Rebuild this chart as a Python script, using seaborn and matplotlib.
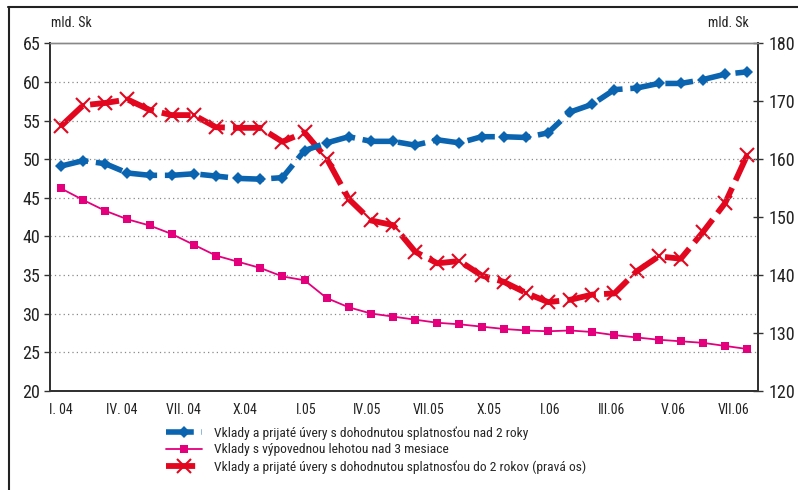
import numpy as np
import pandas as pd
import matplotlib
matplotlib.use("Agg")
import matplotlib.pyplot as plt
from matplotlib.lines import Line2D
from matplotlib import font_manager
import seaborn as sns

# Monthly data, I.2004 - VIII.2006 (mld. Sk)
months = ["I.04", "II.04", "III.04", "IV.04", "V.04", "VI.04", "VII.04", "VIII.04",
          "IX.04", "X.04", "XI.04", "XII.04", "I.05", "II.05", "III.05", "IV.05",
          "V.05", "VI.05", "VII.05", "VIII.05", "IX.05", "X.05", "XI.05", "XII.05",
          "I.06", "II.06", "III.06", "IV.06", "V.06", "VI.06", "VII.06", "VIII.06"]

# deposits and received loans, agreed maturity over 2 years (left axis)
over_2y = [49.1, 49.8, 49.4, 48.2, 47.9, 47.9, 48.1, 47.8, 47.5, 47.4, 47.6, 51.1,
           52.1, 52.9, 52.3, 52.3, 51.8, 52.5, 52.1, 52.9, 52.9, 52.8, 53.4, 56.1,
           57.1, 59.0, 59.2, 59.8, 59.8, 60.3, 61.0, 61.3]

# deposits with notice period over 3 months (left axis)
notice_3m = [46.2, 44.7, 43.3, 42.2, 41.4, 40.3, 38.9, 37.5, 36.7, 35.9, 34.8, 34.3,
             32.0, 30.8, 30.0, 29.6, 29.2, 28.8, 28.6, 28.3, 28.0, 27.8, 27.7, 27.8,
             27.6, 27.2, 26.9, 26.6, 26.4, 26.2, 25.8, 25.4]

# deposits and received loans, agreed maturity up to 2 years (right axis)
upto_2y = [165.7, 169.3, 169.7, 170.3, 168.5, 167.6, 167.6, 165.5, 165.4, 165.4, 163.0, 164.6,
           160.1, 153.1, 149.4, 148.6, 144.0, 142.0, 142.4, 139.9, 138.8, 136.9, 135.3, 135.7,
           136.6, 136.8, 140.6, 143.2, 142.8, 147.4, 152.4, 160.7]

tick_labels = ["I. 04", "IV. 04", "VII. 04", "X.04", "I.05", "IV.05", "VII.05",
               "X.05", "I.06", "III.06", "V.06", "VII.06"]

labels = ["Vklady a prijaté úvery s dohodnutou splatnosťou nad 2 roky",
          "Vklady s výpovednou lehotou nad 3 mesiace",
          "Vklady a prijaté úvery s dohodnutou splatnosťou do 2 rokov (pravá os)"]

df = pd.DataFrame({"month": months, "over_2y": over_2y,
                   "notice_3m": notice_3m, "upto_2y": upto_2y})
df["pos"] = np.arange(len(df))

sns.set_theme(style="white")


def pick_narrow_font():
    """Return (family, stretch) for the narrowest installed sans face."""
    fonts = font_manager.fontManager.ttflist
    names = {f.name for f in fonts}
    for nm in ["Liberation Sans Narrow", "Arial Narrow", "Roboto Condensed",
               "Open Sans Condensed", "Noto Sans Condensed", "DejaVu Sans Condensed"]:
        if nm in names:
            return nm, "normal"
    for fam in ["DejaVu Sans", "Noto Sans", "Open Sans", "Roboto", "Liberation Sans"]:
        for f in fonts:
            if f.name == fam and str(f.stretch) in ("condensed", "semi-condensed",
                                                     "extra-condensed", "400", "300"):
                return fam, f.stretch
    return "Liberation Sans", "normal"


narrow_family, narrow_stretch = pick_narrow_font()
plt.rcParams["font.family"] = [narrow_family, "DejaVu Sans"]
plt.rcParams["font.stretch"] = narrow_stretch
is_narrow = narrow_family != "Liberation Sans"
num_size = 13 if is_narrow else 11.5
txt_size = 10 if is_narrow else 8.8
leg_size = 9.7 if is_narrow else 8.6

BLUE = "#0a64b0"
PINK = "#e4007d"
RED = "#e3061f"
dash = (0, (5, 1.4))

fig = plt.figure(figsize=(7.98, 4.90), dpi=100)
ax = fig.add_axes([50 / 798, 1 - 390.7 / 490, (758.3 - 50) / 798, (390.7 - 43.3) / 490])
ax2 = ax.twinx()

sns.lineplot(data=df, x="pos", y="over_2y", ax=ax, color=BLUE, linewidth=4,
             linestyle=dash, marker="D", markersize=6, markeredgewidth=0,
             markeredgecolor=BLUE)
sns.lineplot(data=df, x="pos", y="notice_3m", ax=ax, color=PINK, linewidth=1.3,
             marker="s", markersize=6, markeredgewidth=0, markeredgecolor=PINK)
sns.lineplot(data=df, x="pos", y="upto_2y", ax=ax2, color=RED, linewidth=4.2,
             linestyle=dash, marker="x", markersize=10, markeredgewidth=1.5,
             markeredgecolor=RED)

n = len(df)
for a in (ax, ax2):
    a.set_xlim(-0.5, n - 0.5)
    a.set_xlabel("")
    a.set_ylabel("")

ax.set_ylim(20, 65)
ax.set_yticks(np.arange(20, 66, 5))
ax2.set_ylim(120, 180)
ax2.set_yticks(np.arange(120, 181, 10))

# horizontal dotted grid on the left scale
for v in np.arange(25, 65, 5):
    ax.axhline(v, color="#8a8a8a", linestyle=(0, (1, 2.5)), linewidth=0.9, zorder=0)

# month category boundaries as ticks, labels spread along the axis
ax.set_xticks(np.arange(-0.5, n, 1.0), minor=True)
ax.set_xticks(np.linspace(0, 30.4, len(tick_labels)))
ax.set_xticklabels(tick_labels, fontsize=txt_size)
ax.tick_params(axis="x", which="major", length=0, pad=9, colors="#222222")
ax.tick_params(axis="x", which="minor", length=6, direction="inout", width=1, color="#333333")
ax.tick_params(axis="y", which="major", length=4, direction="out", width=1, color="#333333",
               labelsize=num_size, pad=3, left=True)
ax2.tick_params(axis="y", which="major", length=7, direction="inout", width=1, color="#333333",
                labelsize=num_size, pad=4, right=True)
for t in ax.get_yticklabels() + ax2.get_yticklabels():
    t.set_color("#222222")

for a in (ax, ax2):
    for s in ("left", "right", "bottom"):
        a.spines[s].set_color("#333333")
        a.spines[s].set_linewidth(1.4)
    a.spines["top"].set_color("#888888")
    a.spines["top"].set_linewidth(1.0)

ax.set_zorder(ax2.get_zorder() + 1)
ax.patch.set_visible(False)

fig.text(51 / 798, 1 - 23 / 490, "mld. Sk", fontsize=txt_size, color="#222222", va="center")
fig.text(749 / 798, 1 - 23 / 490, "mld. Sk", fontsize=txt_size, color="#222222",
         va="center", ha="right")

# outer frame
fig.add_artist(Line2D([8 / 798, 1.0], [1 - 7 / 490, 1 - 7 / 490], transform=fig.transFigure,
                      color="#222222", linewidth=1.5))
fig.add_artist(Line2D([8.5 / 798, 8.5 / 798], [0, 1 - 7 / 490], transform=fig.transFigure,
                      color="#222222", linewidth=1.5))

handles = [
    Line2D([], [], color=BLUE, linewidth=4, linestyle=dash, marker="D", markersize=6,
           markeredgewidth=0),
    Line2D([], [], color=PINK, linewidth=1.3, marker="s", markersize=6, markeredgewidth=0),
    Line2D([], [], color=RED, linewidth=4.2, linestyle=dash, marker="x", markersize=10,
           markeredgewidth=1.5),
]
fig.legend(handles, labels, loc="upper left", bbox_to_anchor=(166 / 798, 1 - 426 / 490),
           frameon=False, fontsize=leg_size, handlelength=2.7, handletextpad=0.85,
           labelspacing=0.28, borderpad=0, borderaxespad=0)

fig.savefig("out.png", dpi=100)
